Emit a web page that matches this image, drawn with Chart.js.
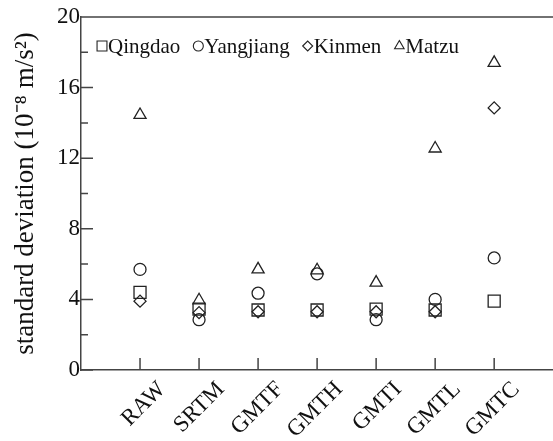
<!DOCTYPE html>
<html>
<head>
<meta charset="utf-8">
<script src="https://cdn.jsdelivr.net/npm/chart.js@4.4.0/dist/chart.umd.min.js"></script>
<style>
  body { margin: 0; background: #fff; overflow: hidden; }
  canvas { display: block; }
</style>
</head>
<body>
<!-- a bit wider than the window: the x axis keeps ~10px right padding, which falls off-screen -->
<canvas id="sdChart" width="563" height="441"></canvas>
<script>
// categories (x) and std deviation values per station
const categories = ["RAW", "SRTM", "GMTF", "GMTH", "GMTI", "GMTL", "GMTC"];
const qingdao = [4.4, 3.45, 3.4, 3.4, 3.45, 3.4, 3.9];
const yangjiang = [5.7, 2.85, 4.35, 5.45, 2.85, 4.0, 6.35];
const kinmen = [3.9, 3.25, 3.3, 3.3, 3.3, 3.3, 14.85];
const matzu = [14.45, 3.95, 5.7, 5.65, 4.95, 12.55, 17.4];
const yTickLabels = [0, 4, 8, 12, 16, 20];

const FONT = "'Liberation Serif', 'Times New Roman', serif";
const INK = "#111";
const AXIS = "#444";

function toPoints(values) {
  return values.map((v, i) => ({ x: i + 1, y: v }));
}

function makeSet(label, values, style, radius) {
  return {
    label: label,
    data: toPoints(values),
    pointStyle: style,
    pointRadius: radius,
    pointHoverRadius: radius,
    borderColor: "#222",
    backgroundColor: "rgba(0,0,0,0)",
    pointBorderWidth: 1.3,
    showLine: false,
  };
}

// inward tick marks, top frame line and the in-plot legend row
const framePlugin = {
  id: "frame",
  afterDraw(chart) {
    const ctx = chart.ctx;
    const area = chart.chartArea;
    const xs = chart.scales.x;
    const ys = chart.scales.y;
    ctx.save();
    ctx.strokeStyle = AXIS;
    ctx.lineWidth = 1.5;
    ctx.beginPath();
    ctx.moveTo(area.left, area.top);
    ctx.lineTo(area.right, area.top);
    ys.ticks.forEach((t) => {
      const py = ys.getPixelForValue(t.value);
      const len = yTickLabels.includes(t.value) ? 12 : 7;
      ctx.moveTo(area.left, py);
      ctx.lineTo(area.left + len, py);
    });
    categories.forEach((c, i) => {
      const px = xs.getPixelForValue(i + 1);
      ctx.moveTo(px, area.bottom);
      ctx.lineTo(px, area.bottom - 12);
    });
    ctx.stroke();

    // legend
    let lx = area.left + 16;
    const ly = area.top + 29;
    const legendRadius = { rect: 7, circle: 5, rectRot: 5, triangle: 5.5 };
    ctx.font = "21px " + FONT;
    ctx.textBaseline = "middle";
    chart.data.datasets.forEach((ds) => {
      ctx.strokeStyle = "#222";
      ctx.fillStyle = "rgba(0,0,0,0)";
      ctx.lineWidth = 1.1;
      Chart.helpers.drawPoint(ctx, {
        pointStyle: ds.pointStyle,
        radius: legendRadius[ds.pointStyle],
        borderWidth: 1.1,
        rotation: 0,
      }, lx + 5, ly);
      ctx.fillStyle = INK;
      ctx.fillText(ds.label, lx + 11, ly + 1);
      lx += 11 + ctx.measureText(ds.label).width + 13;
    });
    ctx.restore();
  },
};

const chart = new Chart(document.getElementById("sdChart").getContext("2d"), {
  type: "scatter",
  data: {
    datasets: [
      makeSet("Qingdao", qingdao, "rect", 8.5),
      makeSet("Yangjiang", yangjiang, "circle", 6),
      makeSet("Kinmen", kinmen, "rectRot", 6),
      makeSet("Matzu", matzu, "triangle", 7),
    ],
  },
  options: {
    responsive: false,
    animation: false,
    layout: { padding: { top: 17, right: 0, left: 0, bottom: 0 } },
    plugins: {
      tooltip: { enabled: false },
      legend: { display: false },
    },
    scales: {
      x: {
        type: "linear",
        min: 0,
        max: 8,
        afterFit: (scale) => { scale.height = 71; },
        grid: { display: false, drawTicks: false },
        border: { color: AXIS, width: 1.5 },
        ticks: {
          stepSize: 1,
          autoSkip: false,
          minRotation: 45,
          maxRotation: 45,
          labelOffset: 22,
          padding: 6,
          color: INK,
          font: { family: FONT, size: 23 },
          callback: (v) => categories[v - 1] ?? null,
        },
      },
      y: {
        min: 0,
        max: 20,
        afterFit: (scale) => {
          scale.width = 81;
          scale.paddingTop = 0;
          scale.paddingBottom = 0;
        },
        grid: { display: false, drawTicks: false },
        border: { color: AXIS, width: 1.5 },
        ticks: {
          stepSize: 2,
          padding: 1,
          color: INK,
          font: { family: FONT, size: 23 },
          callback: (v) => (yTickLabels.includes(v) ? v : ""),
        },
        title: {
          display: true,
          text: "standard deviation (10\u207B\u2078 m/s\u00B2)",
          color: INK,
          font: { family: FONT, size: 27 },
          padding: { top: 10, bottom: 0 },
        },
      },
    },
  },
  plugins: [framePlugin],
});
</script>
</body>
</html>
